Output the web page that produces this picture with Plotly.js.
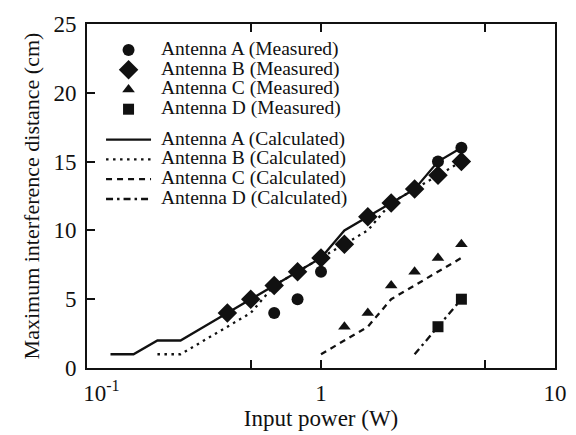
<!DOCTYPE html>
<html>
<head>
<meta charset="utf-8">
<script src="https://cdn.plot.ly/plotly-3.0.1.min.js"></script>
<style>html,body{margin:0;padding:0;background:#fff}#chart{width:576px;height:435px}</style>
</head>
<body>
<div id="chart"></div>
<script>
// Input power (W) and maximum interference distance (cm)
const measA_x = [0.631, 0.794, 1, 1.585, 1.995, 2.512, 3.162, 3.981];
const measA_y = [4, 5, 7, 11, 12, 13, 15, 16];
const measB_x = [0.398, 0.501, 0.631, 0.794, 1, 1.259, 1.585, 1.995, 2.512, 3.162, 3.981];
const measB_y = [4, 5, 6, 7, 8, 9, 11, 12, 13, 14, 15];
const measC_x = [1.259, 1.585, 1.995, 2.512, 3.162, 3.981];
const measC_y = [3, 4, 6, 7, 8, 9];
const measD_x = [3.162, 3.981];
const measD_y = [3, 5];

const calcA_x = [0.126, 0.158, 0.2, 0.251, 0.316, 0.398, 0.501, 0.631, 0.794, 1, 1.259, 1.585, 1.995, 2.512, 3.162, 3.981];
const calcA_y = [1, 1, 2, 2, 3, 4, 5, 6, 7, 8, 10, 11, 12, 13, 15, 16];
const calcB_x = [0.2, 0.251, 0.316, 0.398, 0.501, 0.631, 0.794, 1, 1.259, 1.585, 1.995, 2.512, 3.162, 3.981];
const calcB_y = [1, 1, 2, 3, 4, 6, 7, 8, 9, 10, 12, 13, 14, 15];
const calcC_x = [1, 1.259, 1.585, 1.995, 2.512, 3.162, 3.981];
const calcC_y = [1, 2, 3, 5, 6, 7, 8];
const calcD_x = [2.512, 3.162, 3.981];
const calcD_y = [1, 3, 5];

const measNames = ['Antenna A (Measured)', 'Antenna B (Measured)', 'Antenna C (Measured)', 'Antenna D (Measured)'];
const calcNames = ['Antenna A (Calculated)', 'Antenna B (Calculated)', 'Antenna C (Calculated)', 'Antenna D (Calculated)'];

const xTickVals = [0.1, 0.5, 1, 5, 10];
const xTickText = ['&#160;&#160;&#160;&#160;&#160;10<sup>-1</sup>', '', '1', '', '10'];
const yTickVals = [0, 5, 10, 15, 20, 25];

const serif = 'Liberation Serif';
const black = '#111111';
const big = s => '<span style="font-size:19.5px">&#160;' + s + '</span>';

function meas(x, y, name, symbol, size) {
  return {x: x, y: y, name: big(name), type: 'scatter', mode: 'markers', legend: 'legend',
    marker: {symbol: symbol, size: size, color: black}};
}
function calc(x, y, name, dash) {
  return {x: x, y: y, name: big(name), type: 'scatter', mode: 'lines', legend: 'legend2',
    line: {color: black, width: 2.3, dash: dash}};
}

const data = [
  calc(calcA_x, calcA_y, calcNames[0], 'solid'),
  calc(calcB_x, calcB_y, calcNames[1], '2.5px,4.5px'),
  calc(calcC_x, calcC_y, calcNames[2], '6px,5px'),
  calc(calcD_x, calcD_y, calcNames[3], '7px,4px,2.5px,4px'),
  meas(measA_x, measA_y, measNames[0], 'circle', 12),
  meas(measB_x, measB_y, measNames[1], 'diamond', 15),
  meas(measC_x, measC_y, measNames[2], 'triangle-up', 11),
  meas(measD_x, measD_y, measNames[3], 'square', 11)
];

const legBase = {
  xanchor: 'left', yanchor: 'top',
  bgcolor: 'rgba(0,0,0,0)', borderwidth: 0,
  font: {family: serif, size: 12.9, color: black},
  traceorder: 'normal', itemwidth: 45, itemsizing: 'trace'
};

const layout = {
  width: 576, height: 435,
  margin: {l: 87, r: 21, t: 24, b: 67},
  paper_bgcolor: '#ffffff', plot_bgcolor: '#ffffff',
  font: {family: serif, size: 20, color: black},
  showlegend: true,
  legend: Object.assign({}, legBase, {x: 0.03, y: 0.968}),
  legend2: Object.assign({}, legBase, {x: 0.03, y: 0.707}),
  xaxis: {
    type: 'log', range: [-1, 1],
    tickmode: 'array', tickvals: xTickVals, ticktext: xTickText,
    ticks: 'inside', ticklen: 8, tickwidth: 2, tickcolor: black,
    showline: true, linecolor: black, linewidth: 2, mirror: 'ticks',
    showgrid: false, zeroline: false, ticklabelstandoff: 3,
    tickfont: {family: serif, size: 23, color: black},
    title: {text: 'Input power (W)', font: {family: serif, size: 23, color: black}, standoff: 0}
  },
  yaxis: {
    range: [0, 25],
    tickmode: 'array', tickvals: yTickVals,
    ticks: 'inside', ticklen: 8, tickwidth: 2, tickcolor: black,
    showline: true, linecolor: black, linewidth: 2, mirror: true,
    showgrid: false, zeroline: false, ticklabelstandoff: 4,
    tickfont: {family: serif, size: 23, color: black},
    title: {text: 'Maximum interference distance (cm)', font: {family: serif, size: 22, color: black}, standoff: 8}
  }
};

Plotly.newPlot('chart', data, layout, {staticPlot: true, displayModeBar: false});
</script>
</body>
</html>
